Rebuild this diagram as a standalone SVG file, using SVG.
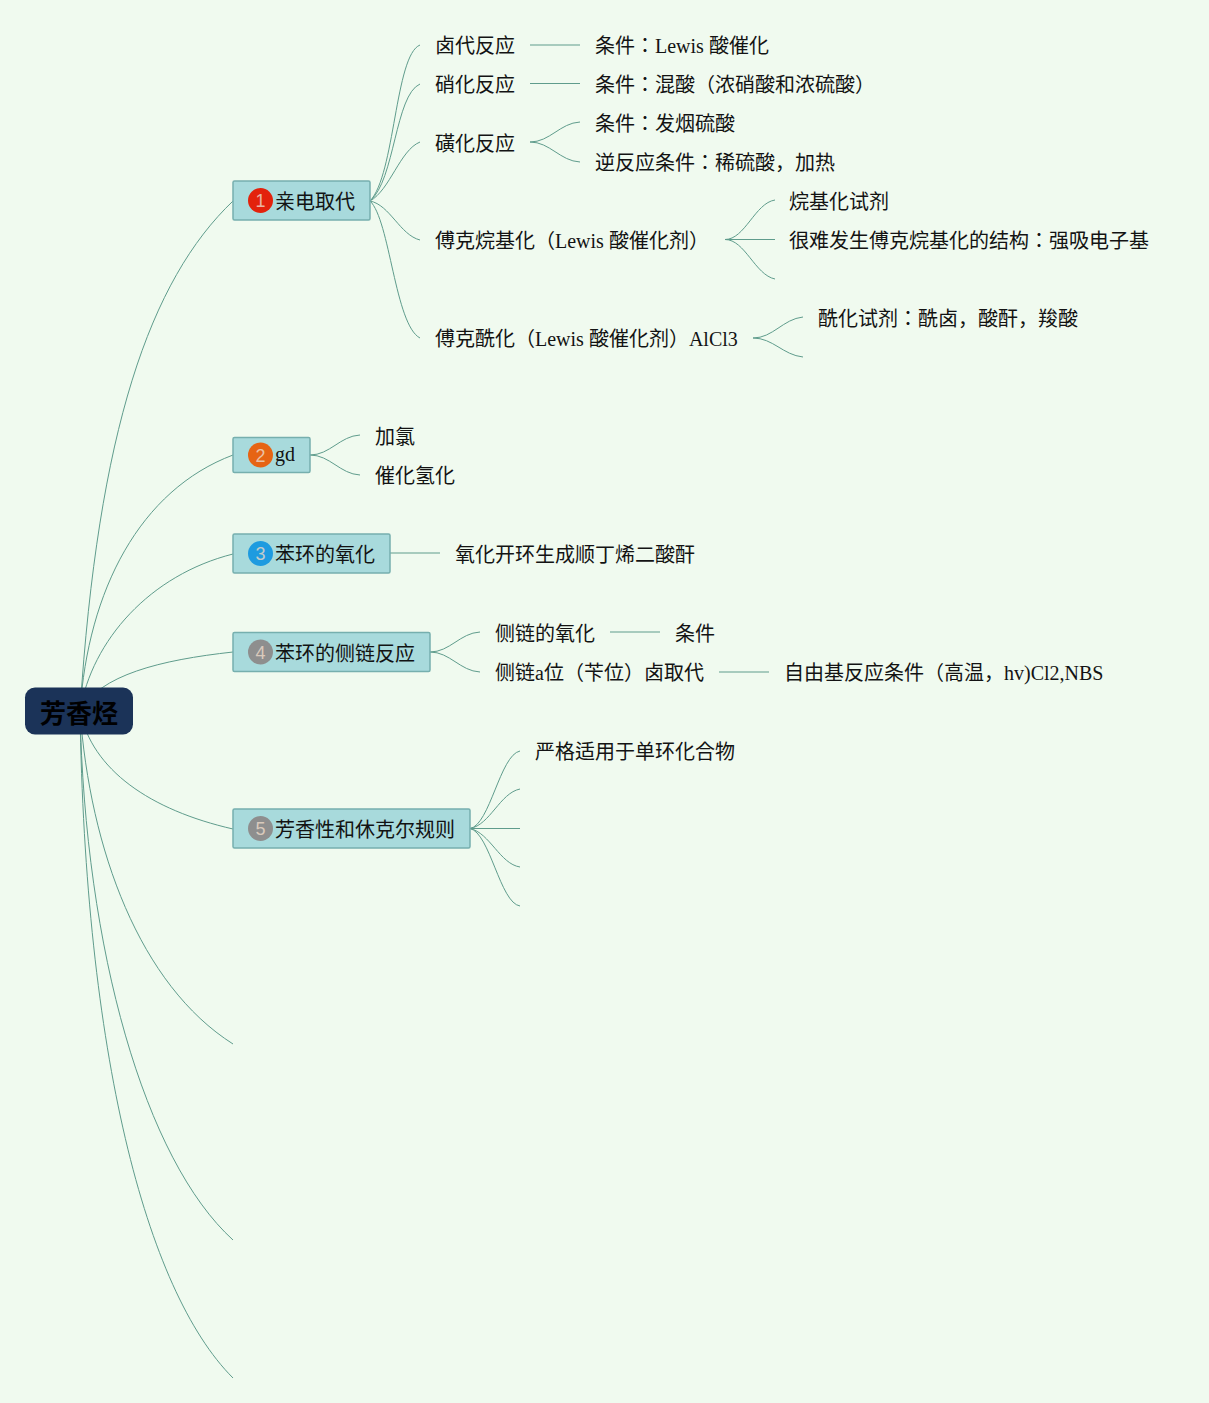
<svg xmlns="http://www.w3.org/2000/svg" width="1209" height="1403" viewBox="0 0 1209 1403">
<style>
text{font-family:"Liberation Serif","Noto Sans CJK JP",serif;font-size:20px;fill:#111;opacity:.99}
.c{fill:none;stroke:#5f9c8c;stroke-width:1}
.b{fill:#a8dadc;stroke:#76afae;stroke-width:1.5}
.n{font-family:"Liberation Sans",sans-serif;font-size:18px;fill:#ecd9c8;text-anchor:middle;opacity:.8}
.root{font-family:"Noto Sans CJK JP",sans-serif;font-weight:700;font-size:26px;fill:#000;text-anchor:middle}
</style>
<rect width="1209" height="1403" fill="#f0faef"/>
<g id="connectors" class="c">
<path d="M80 711C98 430 150 280 233 201"/>
<path d="M80 711C88 590 140 490 233 455"/>
<path d="M80 711C92 640 150 575 233 554"/>
<path d="M80 711C100 675 160 660 233 652"/>
<path d="M80 711C92 770 150 810 233 829"/>
<path d="M80 711C90 850 140 985 233 1044"/>
<path d="M80 711C85 950 145 1160 233 1240"/>
<path d="M80 711C85 1050 145 1290 233 1378"/>
<path d="M370 201C395 175 395 55 420 45"/>
<path d="M370 201C395 180 395 95 420 84"/>
<path d="M370 201C390 190 400 150 420 142"/>
<path d="M370 201C390 205 400 235 420 240"/>
<path d="M370 201C390 220 395 325 420 338"/>
<path d="M530 45H580"/>
<path d="M530 83.500H580"/>
<path d="M530 142C550 142 560 123 580 122"/>
<path d="M530 142C550 142 560 161 580 162"/>
<path d="M725 239.500C745 239.500 755 203 775 200"/>
<path d="M725 239.500H775"/>
<path d="M725 239.500C745 239.500 755 275 775 279"/>
<path d="M753 338C773 338 783 319 803 317"/>
<path d="M753 338C773 338 783 355 803 357"/>
<path d="M310 455C330 455 340 436 360 435"/>
<path d="M310 455C330 455 340 474 360 475"/>
<path d="M390 553H440"/>
<path d="M430 652C450 652 460 633 480 632"/>
<path d="M430 652C450 652 460 671 480 672"/>
<path d="M610 632H660"/>
<path d="M719 672H769"/>
<path d="M470 828.500C490 825 500 755 520 751"/>
<path d="M470 828.500C490 825 500 793 520 789"/>
<path d="M470 828.500H520"/>
<path d="M470 828.500C490 833 500 864 520 867"/>
<path d="M470 828.500C490 833 500 903 520 906"/>
</g>
<g id="root"><rect x="25" y="687.500" width="108" height="47" rx="10" fill="#1b3358"/><text class="root" x="79" y="723">芳香烃</text></g>
<g id="node1"><rect class="b" x="233" y="181" width="137" height="39" rx="1.5"/><circle cx="260.500" cy="200.500" r="12.500" fill="#e3220c"/><text class="n" x="260.500" y="207">1</text><text x="275" y="209">亲电取代</text></g>
<g id="node2"><rect class="b" x="233" y="437.500" width="77" height="35" rx="1.500"/><circle cx="260.500" cy="455" r="12.500" fill="#e66414"/><text class="n" x="260.500" y="461.500">2</text><text x="275" y="461">gd</text></g>
<g id="node3"><rect class="b" x="233" y="534" width="157" height="39" rx="1.500"/><circle cx="260.500" cy="553.500" r="12.500" fill="#1e9be0"/><text class="n" x="260.500" y="560">3</text><text x="275" y="562">苯环的氧化</text></g>
<g id="node4"><rect class="b" x="233" y="632.500" width="197" height="39" rx="1.500"/><circle cx="260.500" cy="652" r="12.500" fill="#8e8e8e"/><text class="n" x="260.500" y="658.500">4</text><text x="275" y="660.500">苯环的侧链反应</text></g>
<g id="node5"><rect class="b" x="233" y="809" width="237" height="39" rx="1.500"/><circle cx="260.500" cy="828.500" r="12.500" fill="#8e8e8e"/><text class="n" x="260.500" y="835">5</text><text x="275" y="837">芳香性和休克尔规则</text></g>
<g id="t1"><text x="435" y="53">卤代反应</text></g>
<g id="t2"><text x="595" y="53">条件：Lewis 酸催化</text></g>
<g id="t3"><text x="435" y="92">硝化反应</text></g>
<g id="t4"><text x="595" y="92">条件：混酸（浓硝酸和浓硫酸）</text></g>
<g id="t5"><text x="435" y="151">磺化反应</text></g>
<g id="t6"><text x="595" y="131">条件：发烟硫酸</text></g>
<g id="t7"><text x="595" y="170">逆反应条件：稀硫酸，加热</text></g>
<g id="t8"><text x="435" y="248">傅克烷基化（Lewis 酸催化剂）</text></g>
<g id="t9"><text x="789" y="209">烷基化试剂</text></g>
<g id="t10"><text x="789" y="248">很难发生傅克烷基化的结构：强吸电子基</text></g>
<g id="t11"><text x="435" y="346">傅克酰化（Lewis 酸催化剂）AlCl3</text></g>
<g id="t12"><text x="818" y="326">酰化试剂：酰卤，酸酐，羧酸</text></g>
<g id="t13"><text x="375" y="444">加氯</text></g>
<g id="t14"><text x="375" y="483">催化氢化</text></g>
<g id="t15"><text x="455" y="562">氧化开环生成顺丁烯二酸酐</text></g>
<g id="t16"><text x="495" y="641">侧链的氧化</text></g>
<g id="t17"><text x="675" y="641">条件</text></g>
<g id="t18"><text x="495" y="680">侧链a位（苄位）卤取代</text></g>
<g id="t19"><text x="784" y="680">自由基反应条件（高温，hv)Cl2,NBS</text></g>
<g id="t20"><text x="535" y="759">严格适用于单环化合物</text></g>
</svg>
